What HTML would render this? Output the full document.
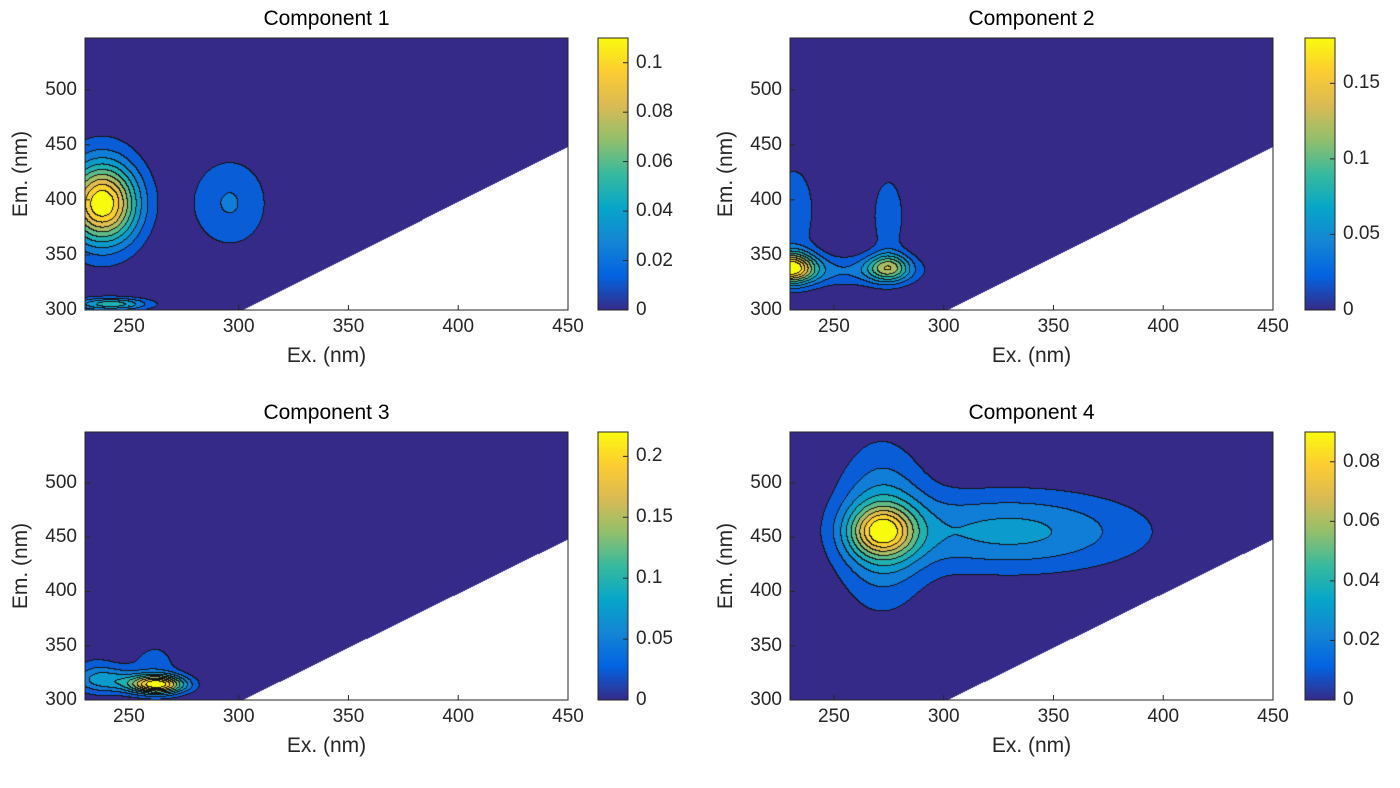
<!DOCTYPE html>
<html><head><meta charset="utf-8">
<style>
body{margin:0;background:#fff;width:1400px;height:788px;overflow:hidden;font-family:"Liberation Sans",Arial,sans-serif;}
canvas{position:absolute;}
.t{position:absolute;font-size:19px;color:#262626;white-space:nowrap;}
.title{position:absolute;font-size:21px;color:#000;white-space:nowrap;}
</style></head>
<body>
<div id="root"></div>
<script>
// ---- data ----
const exTicks=[250,300,350,400,450];
const emTicks=[300,350,400,450,500];
const titles=["Component 1","Component 2","Component 3","Component 4"];
const cbMax=[0.11,0.18,0.22,0.09];
const cbTicks=[[0,0.02,0.04,0.06,0.08,0.1],[0,0.05,0.1,0.15],[0,0.05,0.1,0.15,0.2],[0,0.02,0.04,0.06,0.08]];
// peaks: [ex, em, amplitude, sigmaEx, sigmaEm]
const peaks1=[[238,396,0.09,11,24],[238,402,0.02,14,40],[296,397,0.023,13,30],[242,305,0.05,12,4]];
const peaks2=[[230,338,0.16,8,10],[275,338,0.095,7,9],[275,385,0.03,6,30],[255,335,0.035,25,10],[232,390,0.03,8,35]];
const peaks3=[[263,314,0.2,9,6],[240,318,0.06,10,8],[262,332,0.03,9,18],[235,325,0.025,8,15]];
const peaks4=[[272,455,0.052,10,16],[330,455,0.03,42,26],[272,460,0.03,14,50]];
const allPeaks=[peaks1,peaks2,peaks3,peaks4];

const exMin=230,exMax=450,emMin=300,emMax=547;
const layout=[{x:85,y:38,w:483,h:272,cb:598},{x:790,y:38,w:483,h:272,cb:1305},{x:85,y:432,w:483,h:268,cb:598},{x:790,y:432,w:483,h:268,cb:1305}];
const stops=[[0.2081,0.1663,0.5292],[0.0116,0.3875,0.8820],[0.0780,0.5200,0.8320],[0.0235,0.6523,0.7867],[0.2161,0.7247,0.6196],[0.5709,0.7497,0.4220],[0.8500,0.7300,0.3300],[0.9900,0.8000,0.2000],[0.9763,0.9831,0.0538]];
function parula(t){t=Math.max(0,Math.min(1,t));const p=t*(stops.length-1);const i=Math.min(stops.length-2,Math.floor(p));const f=p-i;return stops[i].map((c,k)=>Math.round(255*(c+(stops[i+1][k]-c)*f)));}
const root=document.getElementById('root');
function txt(cls,s,x,y,name,align){const d=document.createElement('div');d.className=cls;d.textContent=s;d.style.left=x+'px';d.style.top=y+'px';if(align==='c')d.style.transform='translateX(-50%)';if(align==='r')d.style.transform='translateX(-100%)';root.appendChild(d);return d;}
const N=10;
layout.forEach((L,pi)=>{
  const peaks=allPeaks[pi],mx=cbMax[pi];
  const sx=v=>L.x+(v-exMin)/(exMax-exMin)*L.w;
  const sy=v=>L.y+L.h-(v-emMin)/(emMax-emMin)*L.h;
  const cv=document.createElement('canvas');cv.width=L.w;cv.height=L.h;cv.style.left=L.x+'px';cv.style.top=L.y+'px';
  
  root.appendChild(cv);
  const ctx=cv.getContext('2d');const img=ctx.createImageData(L.w,L.h);
  const idx=new Int16Array(L.w*L.h);
  for(let j=0;j<L.h;j++)for(let i=0;i<L.w;i++){
    const ex=exMin+(i+0.5)/L.w*(exMax-exMin), em=emMin+(L.h-j-0.5)/L.h*(emMax-emMin);
    if(em<ex-2&&ex>300){idx[j*L.w+i]=-1;continue;}
    let v=0;for(const p of peaks)v+=p[2]*Math.exp(-((ex-p[0])**2/(2*p[3]*p[3])+(em-p[1])**2/(2*p[4]*p[4])));
    idx[j*L.w+i]=Math.min(N-1,Math.floor(v/mx*N));
  }
  for(let j=0;j<L.h;j++)for(let i=0;i<L.w;i++){
    const k=j*L.w+i,q=idx[k],o=k*4;
    if(q<0){img.data[o]=img.data[o+1]=img.data[o+2]=255;img.data[o+3]=255;continue;}
    let c=parula(q/(N-1));
    const r=i<L.w-1?idx[k+1]:q,d=j<L.h-1?idx[k+L.w]:q;
    if((r>=0&&r!==q)||(d>=0&&d!==q))c=[20,20,20];
    img.data[o]=c[0];img.data[o+1]=c[1];img.data[o+2]=c[2];img.data[o+3]=255;
  }
  ctx.putImageData(img,0,0);
  const ns='http://www.w3.org/2000/svg';
  const svg=document.createElementNS(ns,'svg');svg.setAttribute('width',1400);svg.setAttribute('height',788);svg.style.position='absolute';svg.style.left='0';svg.style.top='0';
  
  let h=`<rect x="${L.x}" y="${L.y}" width="${L.w}" height="${L.h}" fill="none" stroke="#262626" stroke-width="1"/>`;
  exTicks.forEach(t=>{const x=sx(t);h+=`<line x1="${x}" x2="${x}" y1="${L.y+L.h}" y2="${L.y+L.h-5}" stroke="#262626"/>`;});
  emTicks.forEach(t=>{const y=sy(t);h+=`<line x1="${L.x}" x2="${L.x+5}" y1="${y}" y2="${y}" stroke="#262626"/>`;});
  const cbw=30;
  let g=`<defs><linearGradient id="g${pi}" x1="0" y1="1" x2="0" y2="0">`;
  for(let s=0;s<=16;s++){const c=parula(s/16);g+=`<stop offset="${s/16}" stop-color="rgb(${c})"/>`;}
  g+=`</linearGradient></defs>`;
  h=g+h+`<rect x="${L.cb}" y="${L.y}" width="${cbw}" height="${L.h}" fill="url(#g${pi})" stroke="#262626"/>`;
  cbTicks[pi].forEach(t=>{const y=L.y+L.h-t/mx*L.h;h+=`<line x1="${L.cb+cbw-5}" x2="${L.cb+cbw}" y1="${y}" y2="${y}" stroke="#262626"/>`;});
  svg.innerHTML=h;root.appendChild(svg);
  exTicks.forEach(t=>txt('t',String(t),sx(t),L.y+L.h+6,'x-tick-'+t,'c'));
  emTicks.forEach(t=>txt('t',String(t),L.x-8,sy(t)-11,'y-tick-'+t,'r'));
  cbTicks[pi].forEach(t=>txt('t',String(t),L.cb+cbw+8,L.y+L.h-t/mx*L.h-11,'colorbar-tick','l'));
  txt('title',titles[pi],L.x+L.w/2,L.y-31,'chart-title','c');
  txt('t','Ex. (nm)',L.x+L.w/2,L.y+L.h+34,'x-axis-title','c').style.fontSize='21px';
  const yl=txt('t','Em. (nm)',L.x-64,L.y+L.h/2,'y-axis-title');
  yl.style.fontSize='21px';yl.style.transform='translate(-50%,-50%) rotate(-90deg)';
});
</script>
</body></html>
